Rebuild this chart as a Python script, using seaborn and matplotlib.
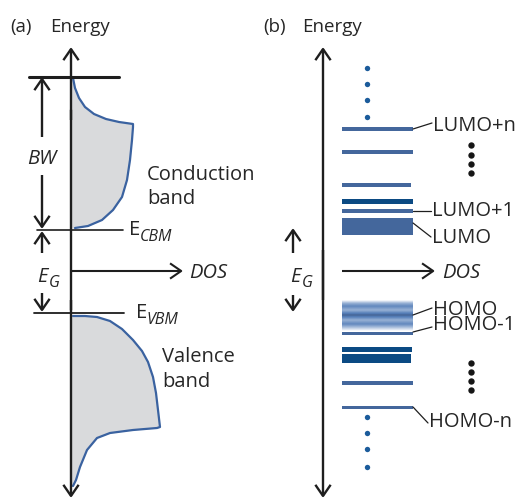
import numpy as np
import matplotlib
matplotlib.use("Agg")
import matplotlib.pyplot as plt
import pandas as pd
import seaborn as sns

sns.set_theme(style="white")
plt.rcParams["font.family"] = ["Open Sans", "DejaVu Sans"]

# ---------------- data ----------------
# Panel (a): density-of-states outlines (DOS measured from the energy axis,
# energy in drawing units that grow downward)
cb_dos = [2, 4, 8, 14, 23, 35, 48, 62, 62, 61, 59, 56, 51, 42, 31, 17, 4]
cb_energy = [78, 88, 98, 107, 114, 119, 122, 124, 127, 140, 160, 180, 197, 210, 220, 226, 228]
vb_dos = [2, 14, 26, 39, 51, 62, 71, 77, 82, 85, 87, 89, 86, 62, 39, 26, 16, 9, 5, 2]
vb_energy = [316, 316, 317, 321, 329, 340, 351, 362, 377, 393, 410, 427, 428, 430, 433,
             438, 450, 467, 480, 486]
e_top, e_cbm, e_vbm = 77, 230, 313

# Panel (b): molecular orbital levels
level_energy = [129, 152, 185, 201, 211, 226.5, 333, 349.5, 358.5, 383, 407]
level_height = [4, 4.5, 3.5, 5, 4, 17, 3, 5.5, 9, 4.5, 3]
level_length = [71, 71, 69, 71, 71, 71, 71, 70, 69, 71, 71]
level_shade = ["mid", "mid", "mid", "dark", "mid", "mid", "mid", "dark", "dark", "mid", "mid"]
homo_energy = [300, 303, 306, 310, 313, 315, 317, 320, 324, 327, 331]
homo_weight = [0.0, 0.55, 0.85, 0.55, 0.9, 1.0, 0.9, 0.55, 0.85, 0.5, 0.0]

orbital_labels = ["LUMO+n", "LUMO+1", "LUMO", "HOMO", "HOMO-1", "HOMO-n"]
label_baseline = [131, 216, 243, 315, 330, 427]
leader_from = [(413, 129), (413, 211), (413, 223), (413, 315), (413, 332), (413, 407)]
leader_to = [(432, 123), (431, 211), (431, 237), (432, 308), (432, 327), (428, 423)]
outer_dots_energy = [68, 84, 100, 117, 417, 433, 449, 467]
side_dots_energy = [145, 155, 164, 173, 363, 372, 381, 390]

# ---------------- style ----------------
TXT = "#262626"
LINE = "#1e1e1e"
EDGE = "#3a62a0"
FILL = "#d9dadc"
SHADES = {"mid": "#44679c", "dark": "#0b4a83"}
DOT_BLUE = "#1b5b9b"
FS = 14.5

fig = plt.figure(figsize=(5.19, 4.99), dpi=100)
ax = fig.add_axes([0, 0, 1, 1])
ax.set_xlim(0, 519)
ax.set_ylim(499, 0)
ax.axis("off")


def arrow(x0, y0, x1, y1, lw=1.6, hl=0.8, hw=0.55, color=LINE):
    ax.annotate("", xy=(x1, y1), xytext=(x0, y0),
                arrowprops=dict(arrowstyle=f"->,head_length={hl},head_width={hw}",
                                lw=lw, color=color, shrinkA=0, shrinkB=0,
                                mutation_scale=10, capstyle="butt"))


# ================= panel (a) =================
xa = 71
ax.text(10, 32, "(a)", fontsize=13.5, color=TXT, va="baseline")
ax.text(50, 32, "Energy", fontsize=13.5, color=TXT, va="baseline")

cb = pd.DataFrame({"dos": xa + np.array(cb_dos), "energy": cb_energy})
vb = pd.DataFrame({"dos": xa + np.array(vb_dos), "energy": vb_energy})
for band in (cb, vb):
    ax.fill_betweenx(band["energy"], xa, band["dos"], color=FILL, lw=0, zorder=1)
    sns.lineplot(data=band, x="dos", y="energy", sort=False, estimator=None,
                 color=EDGE, lw=1.6, ax=ax, zorder=2)

# energy axis (both directions) and DOS axis
arrow(xa, 120, xa, 47, lw=1.7)
arrow(xa, 300, xa, 498, lw=1.7)
ax.plot([xa, xa], [110, 310], color=LINE, lw=1.7, zorder=3)
arrow(xa, 271, 183, 271, lw=1.5)

# reference energies
ax.plot([29, 119], [e_top, e_top], color=LINE, lw=2.2, zorder=3)
ax.plot([37, 123], [e_cbm, e_cbm], color=LINE, lw=1.2, zorder=3)
ax.plot([34, 124], [e_vbm, e_vbm], color=LINE, lw=1.3, zorder=3)

# band width and gap markers
xm = 42
arrow(xm, 137, xm, e_top, lw=1.7)
arrow(xm, 175, xm, e_cbm - 1, lw=1.7)
ax.text(xm, 164, "BW", fontsize=FS, style="italic", color=TXT, ha="center", va="baseline")
arrow(xm, 253, xm, e_cbm + 1, lw=1.7)
arrow(xm, 293, xm, e_vbm - 1, lw=1.7)
ax.text(37, 282, "E", fontsize=FS, style="italic", color=TXT, va="baseline")
ax.text(49, 287, "G", fontsize=11.5, style="italic", color=TXT, va="baseline")

ax.text(129, 235, "E", fontsize=FS, color=TXT, va="baseline")
ax.text(140, 241, "CBM", fontsize=11.5, style="italic", color=TXT, va="baseline")
ax.text(136, 318, "E", fontsize=FS, color=TXT, va="baseline")
ax.text(147, 324, "VBM", fontsize=11.5, style="italic", color=TXT, va="baseline")
ax.text(189, 278, "DOS", fontsize=FS, style="italic", color=TXT, va="baseline")
ax.text(147, 180, "Conduction", fontsize=FS, color=TXT, va="baseline")
ax.text(147, 204, "band", fontsize=FS, color=TXT, va="baseline")
ax.text(162, 362, "Valence", fontsize=FS, color=TXT, va="baseline")
ax.text(162, 387, "band", fontsize=FS, color=TXT, va="baseline")

# ================= panel (b) =================
xb = 323
x0 = 342
ax.text(263, 32, "(b)", fontsize=13.5, color=TXT, va="baseline")
ax.text(302, 32, "Energy", fontsize=13.5, color=TXT, va="baseline")
arrow(xb, 300, xb, 47, lw=1.7)
arrow(xb, 250, xb, 498, lw=1.7)

ax.barh(level_energy, level_length, height=level_height, left=x0,
        color=[SHADES[s] for s in level_shade], lw=0, zorder=2)

# broadened HOMO level
yy = np.linspace(homo_energy[0], homo_energy[-1], 120)
w = np.interp(yy, homo_energy, homo_weight)
base = np.array(matplotlib.colors.to_rgb("#4472b2"))
deep = np.array(matplotlib.colors.to_rgb("#44669a"))
rgb = np.where((w > 0.95)[:, None], deep, base)
img = np.ones((len(yy), 1, 4))
img[:, 0, :3] = rgb
img[:, 0, 3] = w
ax.imshow(img, extent=(x0, x0 + 71, homo_energy[-1], homo_energy[0]),
          aspect="auto", interpolation="bilinear", zorder=2)
ax.set_xlim(0, 519)
ax.set_ylim(499, 0)

# level continuation dots
sns.scatterplot(x=[367] * len(outer_dots_energy), y=outer_dots_energy, s=15,
                color=DOT_BLUE, linewidth=0, ax=ax, zorder=3)
sns.scatterplot(x=[471] * len(side_dots_energy), y=side_dots_energy, s=21,
                color="#161616", linewidth=0, ax=ax, zorder=3)

for name, yb, p0, p1 in zip(orbital_labels, label_baseline, leader_from, leader_to):
    ax.plot([p0[0], p1[0]], [p0[1], p1[1]], color=LINE, lw=0.9, zorder=3)
    ax.text(p1[0] + 1, yb, name, fontsize=FS, color=TXT, va="baseline")

arrow(xm + 251, 253, xm + 251, 228, lw=1.7)
arrow(xm + 251, 295, xm + 251, 312, lw=1.7)
ax.text(290, 282, "E", fontsize=FS, style="italic", color=TXT, va="baseline")
ax.text(302, 287, "G", fontsize=11.5, style="italic", color=TXT, va="baseline")
arrow(x0, 271, 435, 271, lw=1.5)
ax.text(442, 278, "DOS", fontsize=FS, style="italic", color=TXT, va="baseline")

fig.savefig("out.png", dpi=100)
